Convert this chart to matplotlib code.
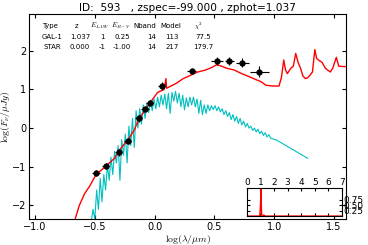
import numpy as np
import matplotlib
matplotlib.use('Agg')
import matplotlib.pyplot as plt

plt.rcParams['mathtext.fontset'] = 'cm'

# photometry (log lambda, log flux, errors)
obs_x = [-0.49, -0.41, -0.30, -0.225, -0.134, -0.08, -0.042, 0.06, 0.31, 0.52, 0.625, 0.733, 0.877]
obs_y = [-1.17, -0.97, -0.63, -0.34, 0.25, 0.49, 0.65, 1.09, 1.47, 1.74, 1.74, 1.69, 1.46]
obs_xerr = [0.03, 0.03, 0.03, 0.03, 0.03, 0.03, 0.03, 0.03, 0.035, 0.05, 0.04, 0.055, 0.08]
obs_yerr = [0.08, 0.08, 0.08, 0.08, 0.1, 0.08, 0.08, 0.1, 0.08, 0.1, 0.1, 0.12, 0.15]

# best galaxy template
gal_x = [-0.67, -0.63, -0.585, -0.543, -0.49, -0.44, -0.40, -0.335, -0.29, -0.225, -0.17,
         -0.128, -0.08, -0.045, 0.024, 0.08, 0.095, 0.10, 0.177, 0.24, 0.29, 0.36, 0.425,
         0.48, 0.52, 0.56, 0.60, 0.667, 0.72, 0.79, 0.85, 0.89, 0.93, 0.98, 1.04, 1.06,
         1.08, 1.095, 1.11, 1.14, 1.16, 1.18, 1.20, 1.22, 1.24, 1.26, 1.28, 1.30, 1.32,
         1.34, 1.355, 1.37, 1.40, 1.43, 1.47, 1.49, 1.52, 1.54, 1.58, 1.62]
gal_y = [-2.4, -2.0, -1.69, -1.50, -1.2, -1.07, -0.96, -0.78, -0.55, -0.31, -0.05,
         0.27, 0.45, 0.62, 0.92, 1.0, 1.28, 1.03, 1.15, 1.28, 1.35, 1.45, 1.5,
         1.57, 1.64, 1.6, 1.55, 1.50, 1.42, 1.33, 1.25, 1.2, 1.11, 1.09, 1.085, 1.3,
         1.76, 1.5, 1.41, 1.55, 1.6, 1.93, 1.7, 1.55, 1.35, 1.28, 1.3, 1.37, 1.45,
         2.03, 1.8, 1.76, 1.7, 1.54, 1.45, 1.55, 1.83, 1.60, 1.59, 1.59]

# best star template (noisy part: low / high envelope)
star_x = [-0.53, -0.50, -0.47, -0.44, -0.41, -0.38, -0.35, -0.32, -0.29, -0.26, -0.23,
          -0.20, -0.17, -0.14, -0.11, -0.08, -0.05, -0.02, 0.01, 0.04, 0.07, 0.10, 0.13,
          0.16, 0.19, 0.22, 0.25, 0.28, 0.31, 0.34, 0.37, 0.40, 0.43, 0.46, 0.49, 0.52,
          0.55, 0.58, 0.61, 0.64, 0.67, 0.70, 0.73, 0.76, 0.79, 0.82, 0.85, 0.88, 0.91,
          0.94, 0.97]
star_lo = [-2.4, -2.35, -2.1, -1.9, -1.6, -1.35, -1.2, -0.9, -1.35, -0.7, -0.9,
           -0.45, -0.5, 0.0, 0.1, 0.25, 0.4, 0.45, 0.5, 0.55, 0.6, 0.5, 0.38,
           0.7, 0.65, 0.55, 0.47, 0.55, 0.6, 0.55, 0.38, 0.35, 0.38, 0.45, 0.48, 0.45,
           0.42, 0.35, 0.3, 0.22, 0.18, 0.12, 0.08, 0.03, 0.0, -0.06, -0.1, -0.14, -0.19,
           -0.23, -0.26]
star_hi = [-2.1, -1.6, -1.3, -1.2, -0.95, -0.75, -0.6, -0.45, -0.3, -0.15, 0.05,
           0.25, 0.45, 0.5, 0.6, 0.65, 0.72, 0.75, 0.8, 0.85, 0.88, 0.9, 0.92,
           0.95, 0.9, 0.85, 0.78, 0.8, 0.8, 0.75, 0.72, 0.6, 0.6, 0.58, 0.58, 0.55,
           0.5, 0.45, 0.4, 0.35, 0.3, 0.25, 0.18, 0.12, 0.05, 0.0, -0.03, -0.08, -0.12,
           -0.17, -0.22]
star_tail_x = [1.02, 1.28]
star_tail_y = [-0.31, -0.78]

# redshift probability distribution
pdz_x = [0, 0.95, 1.0, 1.037, 1.07, 1.1, 1.2, 1.25, 1.3, 7]
pdz_y = [0, 0, 0.5, 1.3, 0.3, 0, 0, 0.06, 0, 0]

table_cols = ['Type', 'z', r'$E_{LAW}$', r'$E_{B-V}$', 'Nband', 'Model', r'$\chi^2$']
table_rows = [['GAL-1', '1.037', '1', '0.25', '14', '113', '77.5'],
              ['STAR', '0.000', '-1', '-1.00', '14', '217', '179.7']]


def main():
    fig = plt.figure(figsize=(3.68, 2.45), dpi=100)
    ax = fig.add_axes([0.079, 0.106, 0.861, 0.837])

    # interleave low/high values of the star spectrum to draw its noise
    sx, sy = [], []
    for i in range(len(star_x)):
        sx.append(star_x[i])
        sy.append(star_lo[i])
        if i + 1 < len(star_x):
            sx.append((star_x[i] + star_x[i + 1]) / 2)
            sy.append(star_hi[i])
    sx += star_tail_x
    sy += star_tail_y

    ax.plot(sx, sy, color='c', lw=0.8)
    ax.plot(gal_x, gal_y, color='r', lw=1)
    ax.errorbar(obs_x, obs_y, xerr=obs_xerr, yerr=obs_yerr, fmt='o', color='k',
                ms=3.5, elinewidth=0.8, capsize=0, zorder=5)

    ax.set_xlim(-1.05, 1.6)
    ax.set_ylim(-2.35, 2.95)
    ax.set_xticks([-1.0, -0.5, 0.0, 0.5, 1.0, 1.5])
    ax.set_yticks([-2, -1, 0, 1, 2])
    ax.tick_params(direction='in', top=True, right=True, labelsize=7, length=3, pad=2)
    ax.set_xlabel(r'$\log(\lambda/\mu m)$', fontsize=7, labelpad=1)
    ax.set_ylabel(r'$\log(F_\nu/\mu Jy)$', fontsize=7, labelpad=0)
    ax.set_title('ID:  593   , zspec=-99.000 , zphot=1.037', fontsize=7.6, pad=2)

    # fit summary table
    col_px = [50, 77, 100, 121, 145, 171, 198]
    row_py = [26, 37, 47]
    for c, name in enumerate(table_cols):
        fig.text(col_px[c] / 368, 1 - row_py[0] / 245, name, fontsize=5,
                 ha='center', va='center')
    val_px = [52, 80, 102, 122, 152, 172, 203]
    for r, row in enumerate(table_rows):
        for c, val in enumerate(row):
            fig.text(val_px[c] / 368, 1 - row_py[r + 1] / 245, val, fontsize=5,
                     ha='center', va='center')

    # inset with P(z)
    ins = fig.add_axes([0.671, 0.118, 0.258, 0.114])
    ins.plot(pdz_x, pdz_y, color='r', lw=1)
    ins.set_xlim(0, 7)
    ins.set_ylim(0, 1.3)
    ins.set_xticks(range(8))
    ins.set_yticks([0.25, 0.5, 0.75])
    ins.tick_params(direction='in', top=True, right=True, labeltop=True, labelbottom=False,
                    labelleft=False, labelright=True, labelsize=6.5, length=2, pad=1)

    fig.savefig('out.png', dpi=100)
    plt.close()


if __name__ == '__main__':
    main()
